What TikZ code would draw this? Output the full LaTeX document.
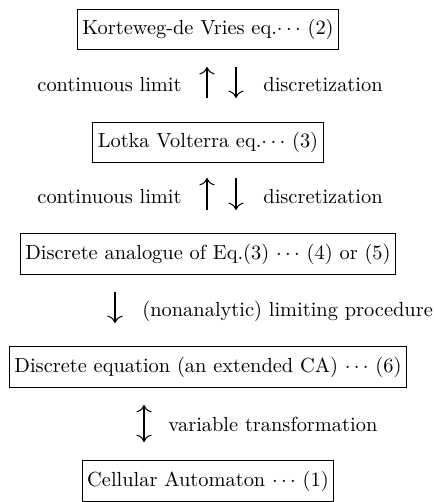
\documentclass[tikz,border=0pt]{standalone}
\usetikzlibrary{arrows.meta}
\begin{document}
\begin{tikzpicture}[x=0.49pt,y=-0.49pt,
  box/.style={draw,line width=0.5pt,inner xsep=2.5pt,inner ysep=0pt,
    text height=7.5pt,text depth=2.5pt,minimum height=20pt},
  lbl/.style={inner sep=0pt},
  tip/.style={Computer Modern Rightarrow[length=3.6pt,width=7.5pt,line width=0.5pt]},
  arr/.style={line width=0.5pt,-{Computer Modern Rightarrow[length=3.6pt,width=7.5pt]}},
  darr/.style={line width=0.5pt,{Computer Modern Rightarrow[length=3.6pt,width=7.5pt]}-{Computer Modern Rightarrow[length=3.6pt,width=7.5pt]}}]
\useasboundingbox (0,0) rectangle (434,502);
% boxes
\node[box] (kdv) at (208,29.5) {Korteweg-de Vries eq.$\cdots$ (2)};
\node[box] (lv)  at (208,142.5) {Lotka Volterra eq.$\cdots$ (3)};
\node[box] (dlv) at (208,254) {Discrete analogue of Eq.(3) $\cdots$ (4) or (5)};
\node[box] (de)  at (208,367) {Discrete equation (an extended CA) $\cdots$ (6)};
\node[box] (ca)  at (208,481) {Cellular Automaton $\cdots$ (1)};
% row 1
\node[lbl,anchor=base east] (cl1) at (182,92) {continuous limit};
\node[lbl,anchor=base west] (ds1) at (263,92) {discretization};
\coordinate (u1a) at (207,98);  \coordinate (u1b) at (207,67);
\coordinate (d1a) at (236,67);  \coordinate (d1b) at (236,98);
\draw[arr] (u1a) -- (u1b);
\draw[arr] (d1a) -- (d1b);
% row 2
\node[lbl,anchor=base east] (cl2) at (182,204) {continuous limit};
\node[lbl,anchor=base west] (ds2) at (263,204) {discretization};
\coordinate (u2a) at (207,210); \coordinate (u2b) at (207,178);
\coordinate (d2a) at (236,178); \coordinate (d2b) at (236,210);
\draw[arr] (u2a) -- (u2b);
\draw[arr] (d2a) -- (d2b);
% row 3
\node[lbl,anchor=base west] (lp) at (142,317) {(nonanalytic) limiting procedure};
\coordinate (d3a) at (115,292); \coordinate (d3b) at (115,323);
\draw[arr] (d3a) -- (d3b);
% row 4
\node[lbl,anchor=base west] (vt) at (168,431) {variable transformation};
\coordinate (v4a) at (144,405); \coordinate (v4b) at (144,442);
\draw[darr] (v4a) -- (v4b);
\end{tikzpicture}
\end{document}
